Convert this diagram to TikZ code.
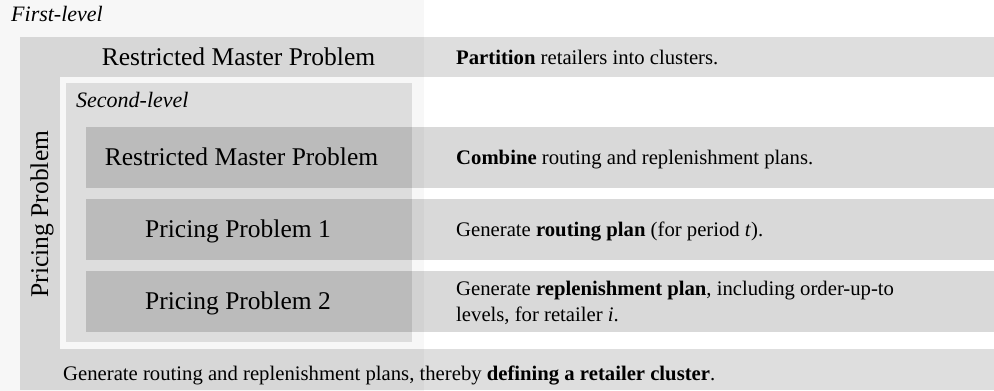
\documentclass[tikz,border=0pt]{standalone}
\usepackage{fontspec}
\setmainfont{Liberation Serif}
\begin{document}
\begin{tikzpicture}[x=1pt,y=-1pt,
  big/.style={font=\fontsize{25.5}{30}\selectfont, inner sep=0pt, anchor=base},
  small/.style={font=\fontsize{20.7}{26}\selectfont, inner sep=0pt, anchor=base west},
  lvl/.style={font=\fontsize{22}{26}\itshape\selectfont, inner sep=0pt, anchor=base west},
  bandfill/.style={fill=black!13},
  rowfill/.style={fill=black, fill opacity=0.15},
]
\useasboundingbox (0,0) rectangle (994,391);
\fill[white] (0,0) rectangle (994,391);
% outer pricing-problem band (L/frame shape)
\fill[bandfill] (20,37) rectangle (994,390);
\fill[white] (60,77) rectangle (994,349);
% second-level box
\fill[black!10] (66,83) rectangle (412,342);
% rows
\fill[rowfill] (86,127) rectangle (994,188);
\fill[rowfill] (86,199) rectangle (994,260);
\fill[rowfill] (86,271) rectangle (994,332);
% first-level overlay
\fill[black, fill opacity=0.03] (0,0) rectangle (424,391);

% texts
\node[lvl] (first) at (11,21) {First-level};
\node[big] (rmp1) at (238.5,65) {Restricted Master Problem};
\node[small] (part) at (456,64) {\textbf{Partition} retailers into clusters.};
\node[lvl] (second) at (76,107) {Second-level};
\node[big] (rmp2) at (241.5,165) {Restricted Master Problem};
\node[small] (comb) at (456,164) {\textbf{Combine} routing and replenishment plans.};
\node[big] (pp1) at (238,237) {Pricing Problem 1};
\node[small] (gen1) at (456,236) {Generate \textbf{routing plan} (for period \textit{t}).};
\node[big] (pp2) at (238,309) {Pricing Problem 2};
\node[font=\fontsize{20.7}{26}\selectfont, inner sep=0pt, anchor=west, align=left] (gen2) at (456,303) {Generate \textbf{replenishment plan}, including order-up-to\\levels, for retailer \textit{i}.};
\node[small] (genb) at (63,380) {Generate routing and replenishment plans, thereby \textbf{defining a retailer cluster}.};
\node[font=\fontsize{25.5}{30}\selectfont, inner sep=0pt, rotate=90] (pp) at (42,214) {Pricing Problem};
\end{tikzpicture}
\end{document}
